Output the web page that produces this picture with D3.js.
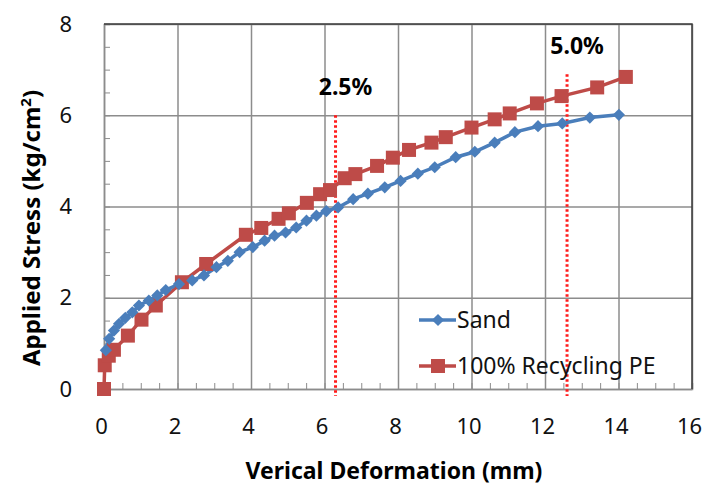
<!DOCTYPE html>
<html>
<head>
<meta charset="utf-8">
<script src="https://cdn.jsdelivr.net/npm/d3@7"></script>
<style>
  body { margin: 0; background: #fff; }
  svg { font-family: "Noto Sans", "Open Sans", sans-serif; }
</style>
</head>
<body>
<script>

// x = vertical deformation (mm), y = applied stress (kg/cm2)
var sand = [
	[0.05,0.85],[0.14,1.10],[0.27,1.28],[0.41,1.43],[0.58,1.56],[0.77,1.68],[0.95,1.83],
	[1.22,1.94],[1.45,2.05],[1.68,2.17],[2.04,2.30],[2.40,2.38],[2.72,2.49],[3.06,2.67],
	[3.37,2.81],[3.69,3.00],[4.05,3.11],[4.37,3.25],[4.64,3.36],[4.94,3.43],[5.23,3.54],
	[5.51,3.69],[5.78,3.80],[6.05,3.90],[6.37,3.98],[6.78,4.16],[7.18,4.28],[7.64,4.42],
	[8.07,4.56],[8.54,4.72],[9.00,4.86],[9.57,5.08],[10.09,5.20],[10.63,5.40],[11.18,5.63],
	[11.81,5.76],[12.47,5.82],[13.22,5.95],[14.01,6.01]
];

var recyclingPE = [
	[0,0],[0.02,0.52],[0.13,0.73],[0.27,0.86],[0.65,1.17],[1.02,1.52],[1.41,1.83],
	[2.12,2.34],[2.78,2.74],[3.86,3.38],[4.28,3.53],[4.75,3.73],[5.03,3.85],[5.52,4.08],
	[5.88,4.27],[6.15,4.36],[6.55,4.62],[6.84,4.71],[7.43,4.89],[7.86,5.07],[8.30,5.24],
	[8.91,5.40],[9.30,5.52],[10.00,5.73],[10.63,5.91],[11.04,6.04],[11.78,6.26],[12.45,6.42],
	[13.42,6.61],[14.20,6.84]
];

var xTicks = [0, 2, 4, 6, 8, 10, 12, 14, 16];
var yTicks = [0, 2, 4, 6, 8];
var strainLines = [
	{ label: '2.5%', x: 6.3, top: 6.0 },
	{ label: '5.0%', x: 12.6, top: 6.9 }
];

var width = 703,
	height = 488;

var svg = d3.select('body').append('svg')
	.attr('width', width)
	.attr('height', height);

var x = d3.scaleLinear().domain([0, 16]).range([104, 692]);
var y = d3.scaleLinear().domain([0, 8]).range([389, 24]);

var blue = '#4a7ebb',
	red = '#be4b48';

// gridlines
svg.append('g')
	.attr('transform', 'translate(0,' + y(0) + ')')
	.call(d3.axisBottom(x).tickValues(xTicks).tickSize(-(y(0) - y(8))).tickFormat(''))
	.call(function(g){
		g.select('.domain').remove();
		g.selectAll('line').attr('stroke', '#8c8c8c').attr('stroke-width', 1.5);
	});

svg.append('g')
	.attr('transform', 'translate(' + x(0) + ',0)')
	.call(d3.axisLeft(y).tickValues(yTicks).tickSize(-(x(16) - x(0))).tickFormat(''))
	.call(function(g){
		g.select('.domain').remove();
		g.selectAll('line').attr('stroke', '#8c8c8c').attr('stroke-width', 1.5);
	});

// minor ticks, pointing inward
svg.append('g')
	.attr('transform', 'translate(0,' + y(0) + ')')
	.call(d3.axisBottom(x).tickValues(d3.range(0, 16.01, 0.5)).tickSize(-6).tickFormat(''))
	.call(function(g){
		g.select('.domain').attr('stroke', '#8c8c8c').attr('stroke-width', 1.5);
		g.selectAll('line').attr('stroke', '#8c8c8c').attr('stroke-width', 1);
	});

svg.append('g')
	.attr('transform', 'translate(' + x(0) + ',0)')
	.call(d3.axisLeft(y).tickValues(d3.range(0, 8.01, 0.5)).tickSize(-6).tickFormat(''))
	.call(function(g){
		g.select('.domain').attr('stroke', '#8c8c8c').attr('stroke-width', 1.5);
		g.selectAll('line').attr('stroke', '#8c8c8c').attr('stroke-width', 1);
	});

// top and right border
svg.append('path')
	.attr('d', 'M' + x(0) + ',' + y(8) + 'H' + x(16) + 'V' + y(0))
	.attr('fill', 'none')
	.attr('stroke', '#3c3c3c')
	.attr('stroke-width', 1.5);

// tick labels
svg.append('g')
	.attr('transform', 'translate(0,' + y(0) + ')')
	.call(d3.axisBottom(x).tickValues(xTicks).tickSize(0).tickPadding(29))
	.call(function(g){
		g.select('.domain').remove();
		g.selectAll('text').attr('font-size', 22).attr('fill', '#111').attr('dx', -3)
			.style('font-family', '"Noto Sans", sans-serif');
	});

svg.append('g')
	.attr('transform', 'translate(' + x(0) + ',0)')
	.call(d3.axisLeft(y).tickValues(yTicks).tickSize(0).tickPadding(32))
	.call(function(g){
		g.select('.domain').remove();
		g.selectAll('text').attr('font-size', 22).attr('fill', '#111')
			.style('font-family', '"Noto Sans", sans-serif');
	});

// axis titles
svg.append('text')
	.attr('x', 394)
	.attr('y', 479)
	.attr('text-anchor', 'middle')
	.attr('font-size', 23)
	.attr('font-weight', 'bold')
	.text('Verical Deformation (mm)');

var yTitle = svg.append('text')
	.attr('transform', 'translate(40,228) rotate(-90)')
	.attr('text-anchor', 'middle')
	.attr('font-size', 24)
	.attr('font-weight', 'bold');
yTitle.append('tspan').text('Applied Stress (kg/cm');
yTitle.append('tspan').attr('font-size', 15).attr('dy', -9).text('2');
yTitle.append('tspan').attr('dy', 9).text(')');

// strain marker lines
strainLines.forEach(function(s){
	svg.append('line')
		.attr('x1', x(s.x)).attr('x2', x(s.x))
		.attr('y1', y(s.top)).attr('y2', y(0) + 7)
		.attr('stroke', '#ff1a1a')
		.attr('stroke-width', 3)
		.attr('stroke-dasharray', '2.5,2.5');

	svg.append('text')
		.attr('x', x(s.x) + 10)
		.attr('y', y(s.top) - 20)
		.attr('text-anchor', 'middle')
		.attr('font-size', 23)
		.attr('font-weight', 'bold')
		.text(s.label);
});

var line = d3.line()
	.x(function(d){ return x(d[0]); })
	.y(function(d){ return y(d[1]); });

// series
svg.append('path')
	.datum(recyclingPE)
	.attr('d', line)
	.attr('fill', 'none')
	.attr('stroke', red)
	.attr('stroke-width', 3.5);

svg.append('path')
	.datum(sand)
	.attr('d', line)
	.attr('fill', 'none')
	.attr('stroke', blue)
	.attr('stroke-width', 3.5);

svg.selectAll('.sq')
	.data(recyclingPE)
	.enter().append('rect').classed('sq', true)
	.attr('x', function(d){ return x(d[0]) - 7; })
	.attr('y', function(d){ return y(d[1]) - 7; })
	.attr('width', 14)
	.attr('height', 14)
	.attr('fill', red);

var diamond = d3.symbol().type(d3.symbolDiamond2).size(95);

svg.selectAll('.dm')
	.data(sand)
	.enter().append('path').classed('dm', true)
	.attr('d', diamond)
	.attr('transform', function(d){ return 'translate(' + x(d[0]) + ',' + y(d[1]) + ')'; })
	.attr('fill', blue);

// legend
var legend = svg.append('g').attr('transform', 'translate(419,0)');
var entries = [
	{ name: 'Sand', color: blue, shape: 'diamond', cy: 320 },
	{ name: '100% Recycling PE', color: red, shape: 'square', cy: 366 }
];

entries.forEach(function(e){
	legend.append('line')
		.attr('x1', 0).attr('x2', 37)
		.attr('y1', e.cy).attr('y2', e.cy)
		.attr('stroke', e.color)
		.attr('stroke-width', 3.5);
	if (e.shape == 'diamond') {
		legend.append('path')
			.attr('d', diamond)
			.attr('transform', 'translate(19,' + e.cy + ')')
			.attr('fill', e.color);
	} else {
		legend.append('rect')
			.attr('x', 12).attr('y', e.cy - 7)
			.attr('width', 14).attr('height', 14)
			.attr('fill', e.color);
	}
	legend.append('text')
		.attr('x', 38)
		.attr('y', e.cy + 8)
		.attr('font-size', 23)
		.attr('fill', '#111')
		.text(e.name);
});

</script>
</body>
</html>
